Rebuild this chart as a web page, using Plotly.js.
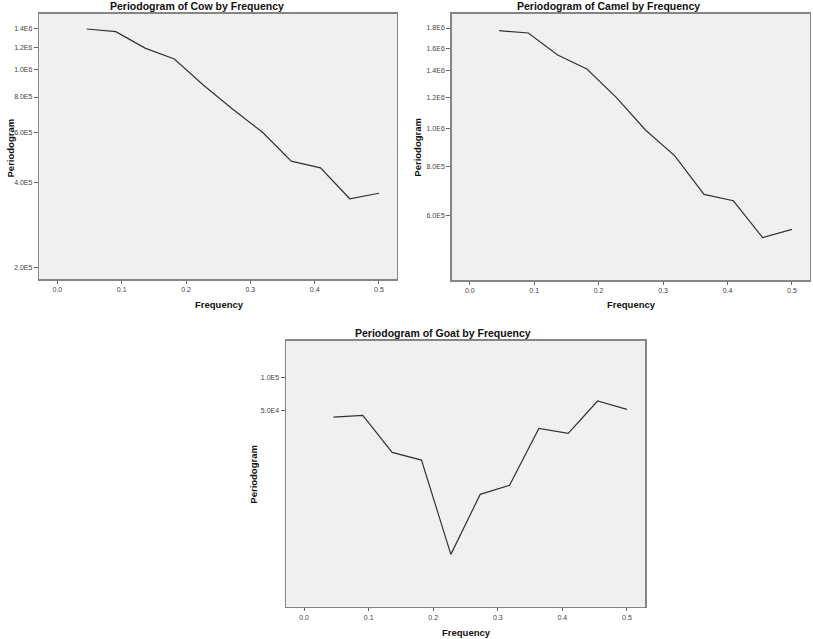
<!DOCTYPE html>
<html>
<head>
<meta charset="utf-8">
<script src="https://cdn.plot.ly/plotly-3.0.1.min.js"></script>
<style>
  html, body { margin: 0; padding: 0; background: #fff; }
  #chart { width: 813px; height: 639px; }
</style>
</head>
<body>
<div id="chart"></div>
<script>
// frequencies k/22, k = 1..11
var freq = [0.0455, 0.0909, 0.1364, 0.1818, 0.2273, 0.2727, 0.3182, 0.3636, 0.4091, 0.4545, 0.5];

// periodogram values
var cow = [1.39e6, 1.36e6, 1.19e6, 1.09e6, 8.8e5, 7.24e5, 6.03e5, 4.75e5, 4.5e5, 3.5e5, 3.66e5];
var camel = [1.772e6, 1.748e6, 1.537e6, 1.416e6, 1.2e6, 9.91e5, 8.52e5, 6.8e5, 6.55e5, 5.28e5, 5.54e5];
var goat = [4.38e4, 4.54e4, 2.1e4, 1.79e4, 2518, 8770, 1.058e4, 3.46e4, 3.12e4, 6.11e4, 5.14e4];

var xTickVals = [0, 0.1, 0.2, 0.3, 0.4, 0.5];
var xTickText = ['0.0', '0.1', '0.2', '0.3', '0.4', '0.5'];

var cowTickVals = [2e5, 4e5, 6e5, 8e5, 1e6, 1.2e6, 1.4e6];
var cowTickText = ['2.0E5', '4.0E5', '6.0E5', '8.0E5', '1.0E6', '1.2E6', '1.4E6'];
var camelTickVals = [6e5, 8e5, 1e6, 1.2e6, 1.4e6, 1.6e6, 1.8e6];
var camelTickText = ['6.0E5', '8.0E5', '1.0E6', '1.2E6', '1.4E6', '1.6E6', '1.8E6'];
var goatTickVals = [5e4, 1e5];
var goatTickText = ['5.0E4', '1.0E5'];

var FONT = 'Liberation Sans, Arial, sans-serif';
var lineStyle = { color: '#333333', width: 1.2 };

function trace(y, xa, ya, name) {
  return { x: freq, y: y, xaxis: xa, yaxis: ya, type: 'scatter', mode: 'lines', name: name, line: lineStyle, hoverinfo: 'x+y' };
}

function xAxis(domain, anchor) {
  return {
    domain: domain, anchor: anchor, range: [-0.028, 0.528],
    tickvals: xTickVals, ticktext: xTickText,
    ticks: 'outside', ticklen: 3, tickcolor: '#666', tickwidth: 1,
    tickfont: { family: FONT, size: 7, color: '#444' },
    showline: true, mirror: true, linecolor: '#858585', linewidth: 1.5,
    showgrid: false, zeroline: false, fixedrange: true
  };
}

function yAxis(domain, anchor, range, vals, text) {
  return {
    domain: domain, anchor: anchor, type: 'log', range: range,
    tickvals: vals, ticktext: text,
    ticks: 'outside', ticklen: 4, tickcolor: '#666', tickwidth: 1,
    tickfont: { family: FONT, size: 7, color: '#444' },
    showline: true, mirror: true, linecolor: '#858585', linewidth: 1.5,
    showgrid: false, zeroline: false, fixedrange: true
  };
}

function label(text, x, y, size, angle) {
  return {
    text: '<b>' + text + '</b>', x: x, y: y, xref: 'paper', yref: 'paper',
    showarrow: false, textangle: angle || 0,
    font: { family: FONT, size: size, color: '#111' },
    xanchor: 'center', yanchor: 'middle'
  };
}

var data = [
  trace(cow, 'x', 'y', 'Cow'),
  trace(camel, 'x2', 'y2', 'Camel'),
  trace(goat, 'x3', 'y3', 'Goat')
];

var layout = {
  width: 813, height: 639,
  margin: { l: 0, r: 0, t: 0, b: 0 },
  paper_bgcolor: '#ffffff',
  plot_bgcolor: '#f0f0f0',
  showlegend: false,
  font: { family: FONT },
  xaxis: xAxis([0.0484, 0.4883], 'y'),
  yaxis: yAxis([0.5629, 0.9781], 'x', [5.260, 6.196], cowTickVals, cowTickText),
  xaxis2: xAxis([0.5556, 0.9963], 'y2'),
  yaxis2: yAxis([0.5618, 0.9781], 'x2', [5.6148, 6.2909], camelTickVals, camelTickText),
  xaxis3: xAxis([0.3518, 0.7934], 'y3'),
  yaxis3: yAxis([0.0505, 0.4668], 'x3', [2.928, 5.331], goatTickVals, goatTickText),
  annotations: [
    label('Periodogram of Cow by Frequency', 0.242, 0.9906, 10.5),
    label('Periodogram of Camel by Frequency', 0.748, 0.9906, 10.5),
    label('Periodogram of Goat by Frequency', 0.5447, 0.4794, 10.5),
    label('Frequency', 0.2694, 0.5227, 9.5),
    label('Frequency', 0.7766, 0.5227, 9.5),
    label('Frequency', 0.5732, 0.0105, 9.5),
    label('Periodogram', 0.0123, 0.7692, 9.5, -90),
    label('Periodogram', 0.5141, 0.7704, 9.5, -90),
    label('Periodogram', 0.3108, 0.2582, 9.5, -90)
  ]
};

Plotly.newPlot('chart', data, layout, { displayModeBar: false, staticPlot: true });
</script>
</body>
</html>
